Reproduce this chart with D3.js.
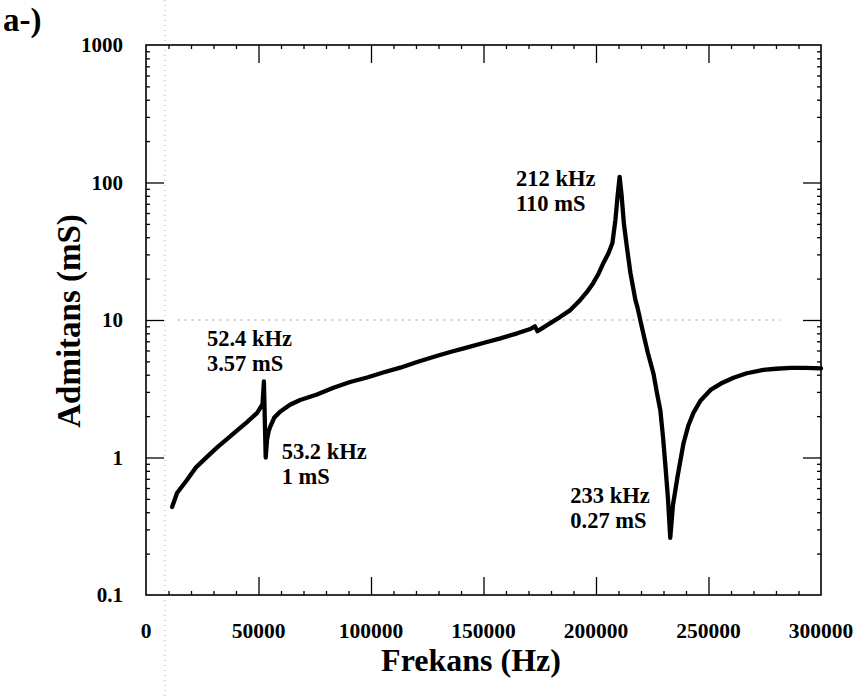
<!DOCTYPE html>
<html>
<head>
<meta charset="utf-8">
<script src="https://cdn.jsdelivr.net/npm/d3@7"></script>
<style>
  html, body { margin: 0; padding: 0; background: #fff; }
  svg { display: block; }
</style>
</head>
<body>
<svg id="chart" width="858" height="696"></svg>
<script>
// ---- data ----
const freqHz = [11600, 13800, 18200, 22000, 27100, 32000, 36000, 40000, 44900, 49400,
  51200, 51800, 52400, 53200, 53800, 54500, 55200, 57000, 59600, 64000,
  68500, 76000, 83000, 90700, 98300, 105400, 113000, 120500, 128000, 135200,
  142500, 149900, 157500, 165000, 170800, 172800, 174000, 176000, 179700, 184000,
  188600, 193000, 196000, 198800, 201000, 203300, 205500, 207300, 208600, 209600,
  210500, 211400, 212400, 213900, 215300, 217500, 218400, 221000, 223000, 225500,
  227000, 228600, 229800, 230900, 232000, 233000, 234200, 236200, 238900, 241000,
  243300, 246500, 250900, 255500, 261100, 267000, 274400, 280000, 286500, 293000, 300000];
const admittanceMs = [0.437, 0.552, 0.686, 0.84, 1.01, 1.2, 1.36, 1.55, 1.81, 2.11,
  2.35, 2.45, 3.57, 1.0, 1.35, 1.55, 1.67, 1.95, 2.15, 2.42,
  2.62, 2.87, 3.2, 3.54, 3.82, 4.15, 4.5, 4.95, 5.4, 5.85,
  6.3, 6.8, 7.35, 8.0, 8.6, 9.0, 8.3, 8.7, 9.5, 10.5,
  11.8, 14.0, 16.0, 18.6, 21.5, 26.0, 30.5, 36.3, 53, 80,
  110, 80, 50, 32.3, 22.0, 14.0, 12.4, 8.0, 5.8, 4.1,
  3.0, 2.2, 1.4, 0.85, 0.5, 0.26, 0.45, 0.72, 1.27, 1.7,
  2.11, 2.6, 3.1, 3.45, 3.8, 4.1, 4.33, 4.42, 4.48, 4.48, 4.45];

const xTickValues = [0, 50000, 100000, 150000, 200000, 250000, 300000];
const yTickValues = [0.1, 1, 10, 100, 1000];
const yTickLabels = ["0.1", "1", "10", "100", "1000"];

const annoFreq = [52400, 53200, 212000, 233000];
const annoValue = [3.57, 1, 110, 0.27];
const annoLine1 = ["52.4 kHz", "53.2 kHz", "212 kHz", "233 kHz"];
const annoLine2 = ["3.57 mS", "1 mS", "110 mS", "0.27 mS"];

const panelLabel = "a-)";
const xTitle = "Frekans (Hz)";
const yTitle = "Admitans (mS)";

// ---- layout ----
const FONT = "'Liberation Serif', 'Times New Roman', Times, serif";
const svg = d3.select("#chart");
const L = 146, R = 821, T = 45, B = 595;

const x = d3.scaleLinear().domain([0, 300000]).range([L, R]);
const y = d3.scaleLog().domain([0.1, 1000]).range([B, T]);

function txt(sel) {
  return sel.attr("font-family", FONT).attr("font-weight", "bold").attr("fill", "#000");
}

// scan artefacts: faint dotted lines
svg.append("line")
  .attr("x1", x(8400)).attr("x2", x(8400)).attr("y1", 0).attr("y2", 696)
  .attr("stroke", "#aaa").attr("stroke-width", 1).attr("stroke-dasharray", "1,4");
svg.append("line")
  .attr("x1", x(14000)).attr("x2", x(282000)).attr("y1", y(10)).attr("y2", y(10))
  .attr("stroke", "#999").attr("stroke-width", 1).attr("stroke-dasharray", "2,5");

// minor tick values
const xMinor = d3.range(0, 300001, 10000).filter(v => v % 50000 !== 0);
const yMinor = [];
[0.1, 1, 10, 100].forEach(d => { for (let k = 2; k <= 9; k++) yMinor.push(d * k); });

const g = svg.append("g");

// frame
g.append("rect").attr("x", L).attr("y", T).attr("width", R - L).attr("height", B - T)
  .attr("fill", "none").attr("stroke", "#000").attr("stroke-width", 1.6);

const majLen = 18, minLen = 4;
function styleAxis(sel) {
  sel.select(".domain").remove();
  sel.selectAll(".tick line").attr("stroke", "#000").attr("stroke-width", 1.3);
}
// bottom
g.append("g").attr("transform", `translate(0,${B})`)
  .call(d3.axisTop(x).tickValues(xTickValues.slice(1, -1)).tickSize(majLen).tickFormat(""))
  .call(styleAxis);
g.append("g").attr("transform", `translate(0,${B})`)
  .call(d3.axisTop(x).tickValues(xMinor).tickSize(minLen).tickFormat(""))
  .call(styleAxis);
// top
g.append("g").attr("transform", `translate(0,${T})`)
  .call(d3.axisBottom(x).tickValues(xTickValues.slice(1, -1)).tickSize(majLen).tickFormat(""))
  .call(styleAxis);
g.append("g").attr("transform", `translate(0,${T})`)
  .call(d3.axisBottom(x).tickValues(xMinor).tickSize(minLen).tickFormat(""))
  .call(styleAxis);
// left
g.append("g").attr("transform", `translate(${L},0)`)
  .call(d3.axisRight(y).tickValues(yTickValues.slice(1, -1)).tickSize(majLen).tickFormat(""))
  .call(styleAxis);
g.append("g").attr("transform", `translate(${L},0)`)
  .call(d3.axisRight(y).tickValues(yMinor).tickSize(minLen).tickFormat(""))
  .call(styleAxis);
// right
g.append("g").attr("transform", `translate(${R},0)`)
  .call(d3.axisLeft(y).tickValues(yTickValues.slice(1, -1)).tickSize(majLen).tickFormat(""))
  .call(styleAxis);
g.append("g").attr("transform", `translate(${R},0)`)
  .call(d3.axisLeft(y).tickValues(yMinor).tickSize(minLen).tickFormat(""))
  .call(styleAxis);

// tick labels
g.selectAll(".xlab").data(xTickValues).enter().append("text")
  .call(txt)
  .attr("x", d => x(d)).attr("y", B + 43)
  .attr("text-anchor", "middle").attr("font-size", 21.5)
  .text(d => d3.format("d")(d));
g.selectAll(".ylab").data(yTickValues).enter().append("text")
  .call(txt)
  .attr("x", L - 23).attr("y", d => y(d)).attr("dy", "0.35em")
  .attr("text-anchor", "end").attr("font-size", 21)
  .text((d, i) => yTickLabels[i]);

// curve
const pts = freqHz.map((f, i) => [f, admittanceMs[i]]);
g.append("path").datum(pts)
  .attr("fill", "none").attr("stroke", "#000").attr("stroke-width", 4.3)
  .attr("stroke-linejoin", "round").attr("stroke-linecap", "round")
  .attr("d", d3.line().x(d => x(d[0])).y(d => y(d[1])));

// annotations (offsets in px relative to the annotated point)
const annoOffset = [[-57, -36], [16, 1], [-107, 9], [-100, -33]];
annoFreq.forEach((f, i) => {
  const ax = x(f) + annoOffset[i][0], ay = y(annoValue[i]) + annoOffset[i][1];
  const t = g.append("text").call(txt).attr("x", ax).attr("y", ay).attr("font-size", 22.5);
  t.append("tspan").attr("x", ax).text(annoLine1[i]);
  t.append("tspan").attr("x", ax).attr("dy", 25).text(annoLine2[i]);
});

// titles
svg.append("text").call(txt).attr("x", 471).attr("y", 671).attr("text-anchor", "middle")
  .attr("font-size", 32).text(xTitle);
svg.append("text").call(txt).attr("transform", `translate(80,321) rotate(-90)`)
  .attr("text-anchor", "middle").attr("font-size", 33).text(yTitle);
svg.append("text").call(txt).attr("x", 3).attr("y", 31).attr("font-size", 33).text(panelLabel);
</script>
</body>
</html>
